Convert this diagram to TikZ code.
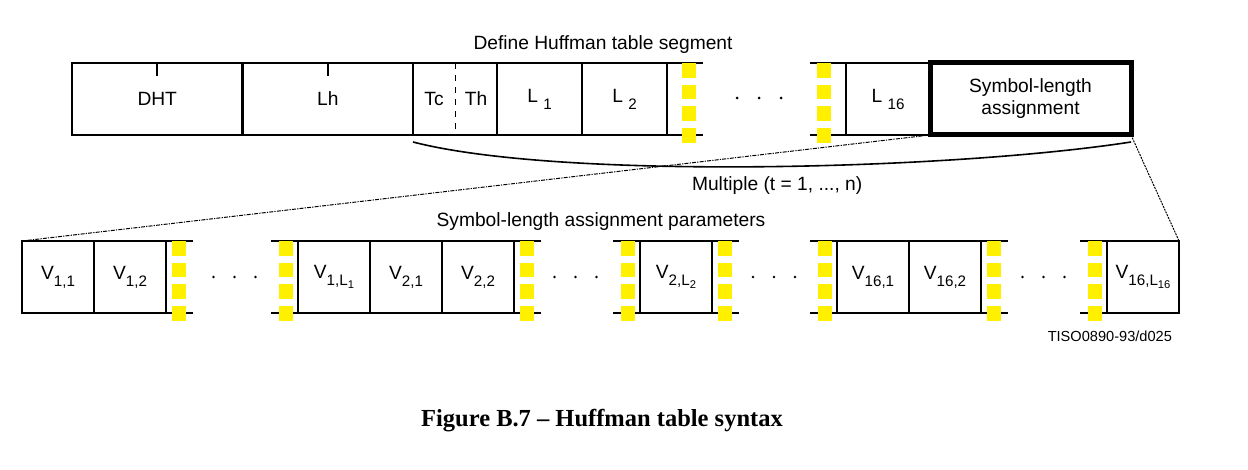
\documentclass[tikz,border=0pt]{standalone}
\usepackage{fontspec}
\setmainfont{Liberation Sans}
\newfontfamily\captionfont{Liberation Serif}
\usetikzlibrary{positioning}
\definecolor{markyellow}{RGB}{255,240,0}
\newcommand\sublow[1]{\raisebox{-3.5pt}{\fontsize{7.6}{8}\selectfont #1}}
\newcommand\subsub[1]{\raisebox{-1.5pt}{\fontsize{5.6}{6}\selectfont #1}}
\tikzset{
    field/.style = {draw, line width=1.1pt, rectangle, inner sep=0pt, outer sep=0pt, minimum height=36pt, font=\fontsize{9.6}{11}\selectfont},
    vfield/.style = {field, minimum width=36pt},
    frame/.style = {line width=1.1pt},
    gap-mark/.style = {draw=markyellow, line width=7pt, dash pattern=on 7.4pt off 3.4pt},
    zoom-link/.style = {line width=0.5pt, dash pattern=on 2pt off 0.6pt on 0.6pt off 0.6pt},
    zoom-link-fine/.style = {line width=0.5pt, dash pattern=on 1pt off 0.5pt},
    label-text/.style = {font=\fontsize{9.6}{11}\selectfont},
}

\begin{document}
\begin{tikzpicture}[x=0.5pt, y=-0.5pt]
\useasboundingbox (0,0) rectangle (1248,470);
% top row: Define Huffman table segment
\node[label-text] (top-title) at (603,45) {Define Huffman table segment};
\node[field, minimum width=85.25pt, anchor=north west] (dht) at (72,63) {DHT};
\node[field, minimum width=85.25pt, right=0pt of dht] (lh) {Lh};
\node[field, minimum width=42pt, right=0pt of lh] (tcth) {};
\node[label-text] (tc) at ([xshift=-10.5pt]tcth.center) {Tc};
\node[label-text] (th) at ([xshift=10.5pt]tcth.center) {Th};
\draw[dashed, line width=0.4pt] (tcth.north) -- (tcth.south);
\node[field, minimum width=42.5pt, right=0pt of tcth] (l1) {L \sublow{1}};
\node[field, minimum width=42.5pt, right=0pt of l1] (l2) {L \sublow{2}};
\node[field, minimum width=42pt, anchor=north west] (l16) at (846,63) {L \sublow{16}};
\node[field, line width=2.5pt, minimum width=100.5pt, align=center, right=0pt of l16] (sla) {Symbol-length\\assignment};
\draw[line width=0.8pt] (dht.north) -- ++(0,13);
\draw[line width=0.8pt] (lh.north) -- ++(0,13);
\draw[frame] (l2.north east) -- ++(36,0) (l2.south east) -- ++(36,0);
\draw[frame] (l16.north west) -- ++(-36,0) (l16.south west) -- ++(-36,0);
\draw[gap-mark] ([xshift=11pt]l2.north east) -- ++(0,80);
\draw[gap-mark] ([xshift=-11pt]l16.north west) -- ++(0,80);
\foreach \x in {737,759,781}
    \fill (\x,98) circle[radius=1.5];

% zoom from the assignment field
\coordinate (curve-start) at ([yshift=-3.5pt]tcth.south west);
\coordinate (curve-end) at ([yshift=-3.5pt]sla.south east);
\draw[line width=0.8pt] (curve-start) .. controls (560,180) and (950,170) .. (curve-end);
\node[label-text, anchor=west] (multiple) at (685,186) {Multiple (t = 1, ..., n)};

% bottom row: Symbol-length assignment parameters
\node[label-text] (bottom-title) at (601,222) {Symbol-length assignment parameters};
\node[vfield, anchor=north west] (v11) at (22,241) {V\sublow{1,1}};
\node[vfield, right=0pt of v11] (v12) {V\sublow{1,2}};
\node[vfield, anchor=north west] (v1L) at (298,241) {V\sublow{1,L\subsub{1}}};
\node[vfield, right=0pt of v1L] (v21) {V\sublow{2,1}};
\node[vfield, right=0pt of v21] (v22) {V\sublow{2,2}};
\node[vfield, anchor=north west] (v2L) at (640,241) {V\sublow{2,L\subsub{2}}};
\node[vfield, anchor=north west] (v161) at (837,241) {V\sublow{16,1}};
\node[vfield, right=0pt of v161] (v162) {V\sublow{16,2}};
\node[vfield, anchor=north west] (v16L) at (1107,241) {V\sublow{16,L\subsub{16}}};
\foreach \n in {v12,v22,v2L,v162} {
    \draw[frame] (\n.north east) -- ++(27,0) (\n.south east) -- ++(27,0);
    \draw[gap-mark] ([xshift=6.25pt]\n.north east) -- ++(0,80);
}
\foreach \n in {v1L,v2L,v161,v16L} {
    \draw[frame] (\n.north west) -- ++(-27,0) (\n.south west) -- ++(-27,0);
    \draw[gap-mark] ([xshift=-6.25pt]\n.north west) -- ++(0,80);
}
\foreach \c in {234.5,575.5,774,1043.5}
    \foreach \d in {-21,0,21}
        \fill (\c+\d,277) circle[radius=1.4];

\draw[zoom-link] (sla.south west) -- (v11.north west);
\draw[zoom-link-fine] (sla.south east) -- (v16L.north east);

\node[font=\fontsize{7.3}{9}\selectfont, anchor=east] (tiso) at (1179,336) {TISO0890-93/d025};
\node[font=\captionfont\bfseries\fontsize{12.25}{14}\selectfont] (caption) at (602,421) {Figure B.7 – Huffman table syntax};
\end{tikzpicture}
\end{document}
